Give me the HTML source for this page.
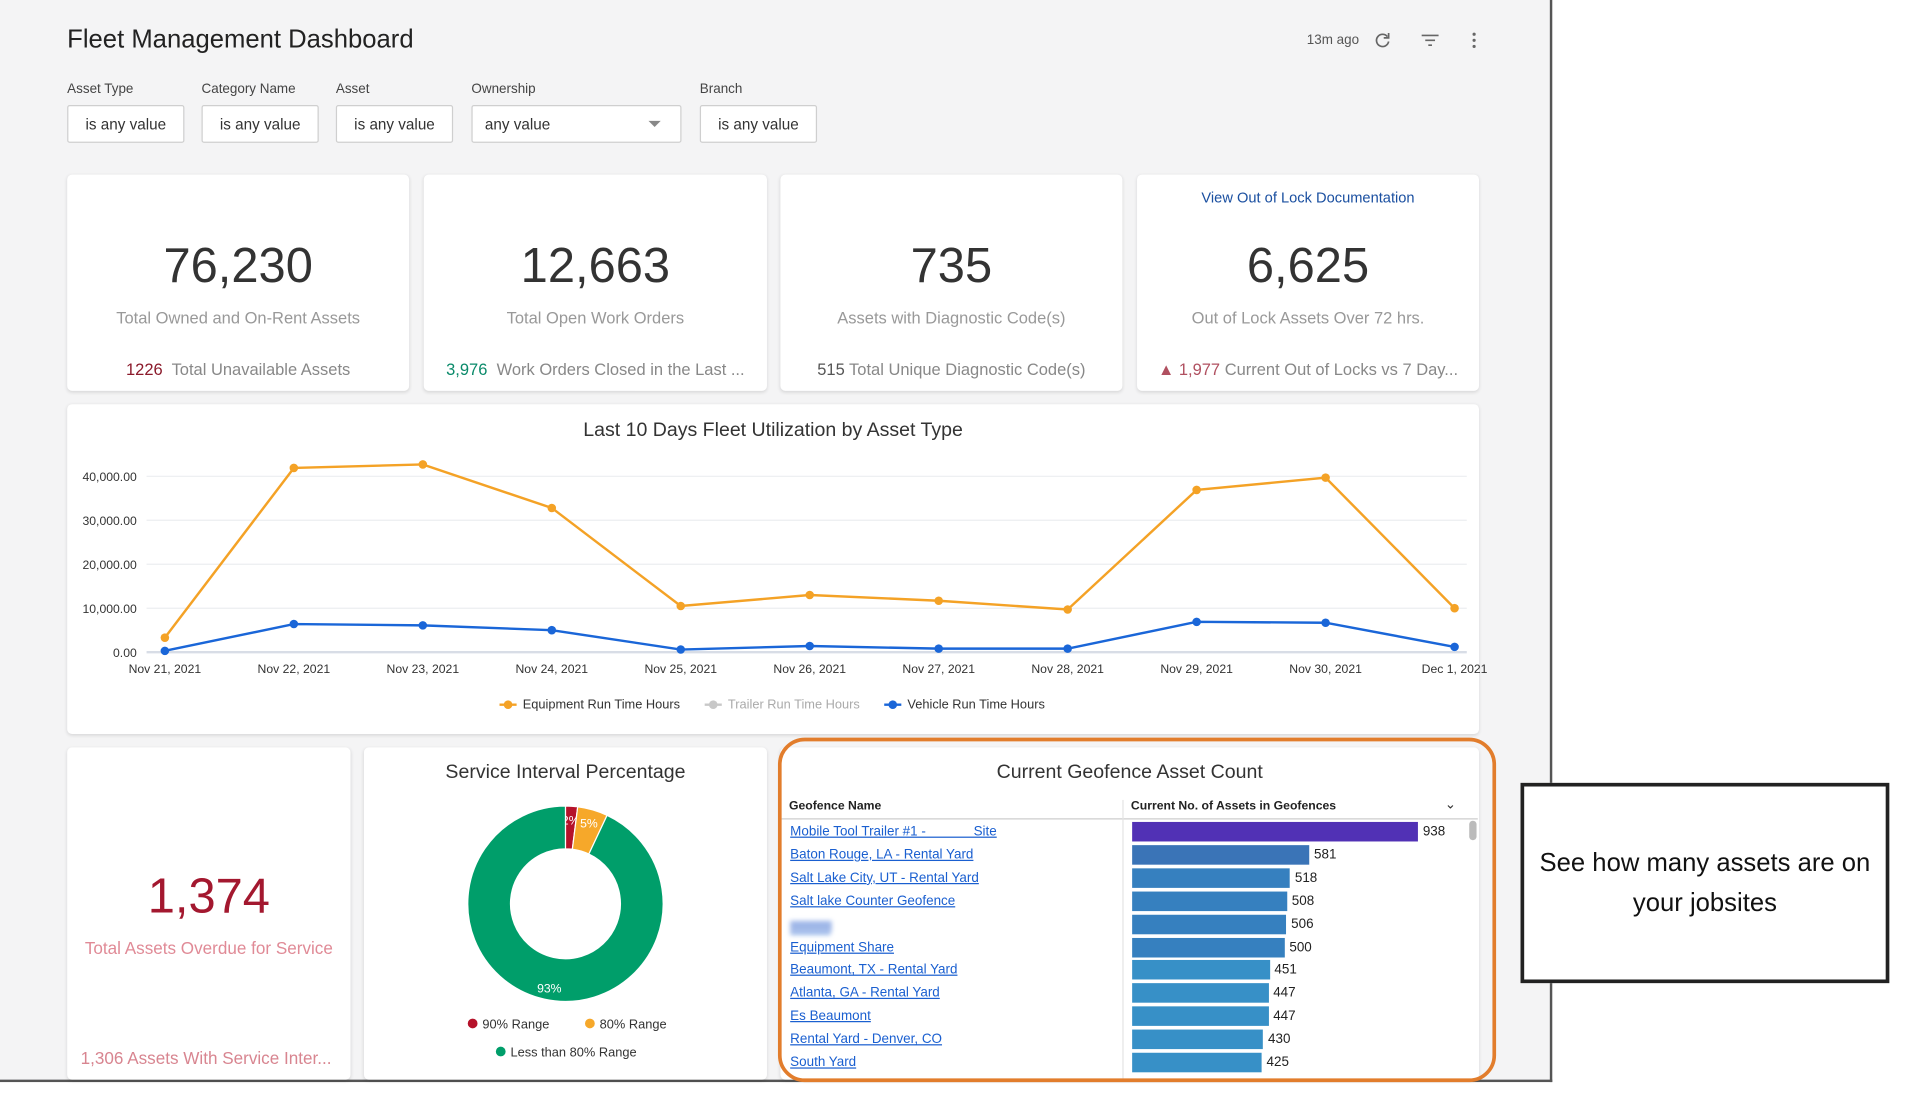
<!DOCTYPE html>
<html><head><meta charset="utf-8">
<style>
html,body{margin:0;padding:0;width:1914px;height:1096px;overflow:hidden;background:#fff;font-family:"Liberation Sans",sans-serif;}
#root{position:absolute;left:0;top:0;width:1567px;height:898px;transform:scale(1.2213);transform-origin:0 0;}
.abs{position:absolute;}
#dash{position:absolute;left:0;top:0;width:1269px;height:884px;background:#f4f4f5;border-right:2px solid #555;border-bottom:2px solid #555;}
.card{position:absolute;background:#fff;border-radius:4px;box-shadow:0 1px 3px rgba(0,0,0,0.12);}
.lbl{position:absolute;font-size:11px;color:#444;top:67px;}
.fbox{position:absolute;top:86px;height:31px;border:1px solid #cfcfcf;border-radius:2px;background:#fff;font-size:12.5px;color:#333;line-height:30px;box-sizing:border-box;padding-left:14px;}
.big{position:absolute;left:0;right:0;text-align:center;font-size:40px;color:#333;top:196px;}
.sub{position:absolute;left:0;right:0;text-align:center;font-size:13.5px;color:#999;top:253px;}
.bot{position:absolute;left:0;right:0;text-align:center;font-size:13.5px;color:#888;top:295px;white-space:nowrap;}
.gname{position:absolute;left:647px;font-size:11px;color:#1a5fd0;text-decoration:underline;white-space:nowrap;}
</style></head><body>
<div id="root">
<div id="dash"></div>
<div class="abs" style="left:55px;top:21px;font-size:21px;color:#222;">Fleet Management Dashboard</div>
<div class="abs" style="left:1070px;top:27px;font-size:11px;color:#555;">13m ago</div>
<svg class="abs" style="left:1125px;top:26px" width="14" height="14" viewBox="0 0 14 14"><path d="M11 4 A5 5 0 1 0 12 8" fill="none" stroke="#666" stroke-width="1.4"/><path d="M12 1 L12 5 L8 5" fill="none" stroke="#666" stroke-width="1.4"/></svg>
<svg class="abs" style="left:1164px;top:27px" width="14" height="12"><path d="M0 2H14M3 6H11M5.5 10H8.5" stroke="#666" stroke-width="1.4"/></svg>
<svg class="abs" style="left:1204px;top:26px" width="6" height="14"><circle cx="3" cy="2" r="1.3" fill="#666"/><circle cx="3" cy="7" r="1.3" fill="#666"/><circle cx="3" cy="12" r="1.3" fill="#666"/></svg>

<div class="lbl" style="left:55px">Asset Type</div>
<div class="lbl" style="left:165px">Category Name</div>
<div class="lbl" style="left:275px">Asset</div>
<div class="lbl" style="left:386px">Ownership</div>
<div class="lbl" style="left:573px">Branch</div>
<div class="fbox" style="left:55px;width:96px;">is any value</div>
<div class="fbox" style="left:165px;width:96px;">is any value</div>
<div class="fbox" style="left:275px;width:96px;">is any value</div>
<div class="fbox" style="left:386px;width:172px;padding-left:10px;">any value<span style="position:absolute;right:16px;top:12px;border-left:5px solid transparent;border-right:5px solid transparent;border-top:5px solid #888;"></span></div>
<div class="fbox" style="left:573px;width:96px;">is any value</div>

<div class="card" style="left:55px;top:143px;width:280px;height:177px;">
<div class="big" style="top:53px">76,230</div><div class="sub" style="top:110px">Total Owned and On-Rent Assets</div>
<div class="bot" style="top:152px"><span style="color:#8b1a2b">1226</span>&nbsp; Total Unavailable Assets</div></div>
<div class="card" style="left:347px;top:143px;width:281px;height:177px;">
<div class="big" style="top:53px">12,663</div><div class="sub" style="top:110px">Total Open Work Orders</div>
<div class="bot" style="top:152px"><span style="color:#0a8a6a">3,976</span>&nbsp; Work Orders Closed in the Last ...</div></div>
<div class="card" style="left:639px;top:143px;width:280px;height:177px;">
<div class="big" style="top:53px">735</div><div class="sub" style="top:110px">Assets with Diagnostic Code(s)</div>
<div class="bot" style="top:152px"><span style="color:#555">515</span> Total Unique Diagnostic Code(s)</div></div>
<div class="card" style="left:931px;top:143px;width:280px;height:177px;">
<div class="abs" style="left:0;right:0;top:12px;text-align:center;font-size:12px;color:#1a4fa0;">View Out of Lock Documentation</div>
<div class="big" style="top:53px">6,625</div><div class="sub" style="top:110px">Out of Lock Assets Over 72 hrs.</div>
<div class="bot" style="top:152px"><span style="color:#b05060">▲ 1,977</span> Current Out of Locks vs 7 Day...</div></div>

<div class="card" style="left:55px;top:331px;width:1156px;height:270px;"></div>
<svg class="abs" id="lc" style="left:0;top:0" width="1270" height="610"></svg>

<div class="card" style="left:55px;top:612px;width:232px;height:272px;">
<div class="abs" style="left:0;right:0;top:100px;text-align:center;font-size:40px;color:#a3182f;">1,374</div>
<div class="abs" style="left:0;right:0;top:156px;text-align:center;font-size:14px;color:#e08a96;">Total Assets Overdue for Service</div>
<div class="abs" style="left:11px;top:246px;font-size:14px;color:#d88590;white-space:nowrap;">1,306 Assets With Service Inter...</div></div>

<div class="card" style="left:298px;top:612px;width:330px;height:272px;">
<div class="abs" style="left:0;right:0;top:12px;text-align:center;font-size:16px;color:#333;">Service Interval Percentage</div></div>
<svg class="abs" id="dc" style="left:298px;top:612px" width="330" height="272"></svg>

<div class="card" style="left:639px;top:612px;width:572px;height:272px;">
<div class="abs" style="left:0;right:0;top:12px;text-align:center;font-size:16px;color:#333;">Current Geofence Asset Count</div></div>
<div class="abs" style="left:646px;top:655px;font-size:10px;font-weight:bold;color:#222;">Geofence Name</div>
<div class="abs" style="left:926px;top:655px;font-size:10px;font-weight:bold;color:#222;">Current No. of Assets in Geofences</div>
<div class="abs" style="left:1183px;top:652px;font-size:11px;color:#333;">⌄</div>
<div class="abs" style="left:640px;top:670px;width:570px;height:1px;background:#ccc;"></div>
<div class="abs" style="left:919px;top:655px;width:1px;height:228px;background:#e4e4e4;"></div>
<div class="abs" style="left:1203px;top:672px;width:6px;height:16px;border-radius:3px;background:#bbb;"></div>
<div id="rows"></div>
<div class="abs" style="left:637px;top:604px;width:582px;height:276px;border:3px solid #e27d2c;border-radius:22px;"></div>

<div class="abs" style="left:1245px;top:641px;width:296px;height:158px;border:3px solid #222;background:#fff;display:flex;align-items:center;justify-content:center;text-align:center;font-size:21px;line-height:33px;color:#111;">See how many assets are on<br>your jobsites</div>
</div>
<script>
const dates=["Nov 21, 2021","Nov 22, 2021","Nov 23, 2021","Nov 24, 2021","Nov 25, 2021","Nov 26, 2021","Nov 27, 2021","Nov 28, 2021","Nov 29, 2021","Nov 30, 2021","Dec 1, 2021"];
const equipment=[3300,41900,42700,32800,10500,13000,11700,9700,36900,39700,10000];
const vehicle=[300,6400,6100,5000,600,1400,800,800,6900,6700,1200];
const yTicks=[0,10000,20000,30000,40000];
const yTickLabels=["0.00","10,000.00","20,000.00","30,000.00","40,000.00"];
const NS="http://www.w3.org/2000/svg";
function mk(p,t,a){const e=document.createElementNS(NS,t);for(const k in a)e.setAttribute(k,a[k]);p.appendChild(e);return e;}
const lc=document.getElementById('lc');
const xS=i=>135+i*(1191-135)/(dates.length-1);
const yS=v=>534-v*(144/40000);
let t=mk(lc,'text',{x:633,y:357,'text-anchor':'middle','font-size':16,fill:'#333'});t.textContent="Last 10 Days Fleet Utilization by Asset Type";


yTicks.forEach((v,i)=>{
 const g=mk(lc,'line',{x1:120,x2:1201,y1:yS(v),y2:yS(v),stroke:i==0?'#d8dde6':'#eceef1','stroke-width':i==0?2:1});
 
 
 const l=mk(lc,'text',{x:112,y:yS(v)+4,'text-anchor':'end','font-size':10,fill:'#333'});l.textContent=yTickLabels[i];
 
 
});
dates.forEach((d,i)=>{const l=mk(lc,'text',{x:xS(i),y:551,'text-anchor':'middle','font-size':10,fill:'#333'});l.textContent=d;
 
 });
function series(vals,col,name){
 const p=mk(lc,'polyline',{points:vals.map((v,i)=>xS(i)+','+yS(v)).join(' '),fill:'none',stroke:col,'stroke-width':2});
 
 
 vals.forEach((v,i)=>{const c=mk(lc,'circle',{cx:xS(i),cy:yS(v),r:3.5,fill:col});
 
 });
}
series(equipment,'#f4a226','equipment');
series(vehicle,'#1a66d8','vehicle');
const legend=[["Equipment Run Time Hours","#f4a226",409,"#333"],["Trailer Run Time Hours","#c8c8c8",577,"#aaa"],["Vehicle Run Time Hours","#1a66d8",724,"#333"]];
legend.forEach(l=>{mk(lc,'line',{x1:l[2],x2:l[2]+14,y1:577,y2:577,stroke:l[1],'stroke-width':2});mk(lc,'circle',{cx:l[2]+7,cy:577,r:3.5,fill:l[1]});
 const tx=mk(lc,'text',{x:l[2]+19,y:580,'font-size':10.5,fill:l[3]});tx.textContent=l[0];
 
 });

const donutLabels=["90% Range","80% Range","Less than 80% Range"];
const donutValues=[2,5,93];
const donutColors=["#b5122a","#f6a82a","#009e6a"];
const dc=document.getElementById('dc');
const cx=165,cy=128,R=80,r=45;let a0=-Math.PI/2;const tot=donutValues.reduce((a,b)=>a+b,0);
donutValues.forEach((v,i)=>{const a1=a0+v/tot*2*Math.PI;const lg=(a1-a0)>Math.PI?1:0;
 const P=(rad,a)=>[cx+rad*Math.cos(a),cy+rad*Math.sin(a)];
 const [x1,y1]=P(R,a0),[x2,y2]=P(R,a1),[x3,y3]=P(r,a1),[x4,y4]=P(r,a0);
 const s=mk(dc,'path',{d:`M${x1},${y1}A${R},${R} 0 ${lg} 1 ${x2},${y2}L${x3},${y3}A${r},${r} 0 ${lg} 0 ${x4},${y4}Z`,fill:donutColors[i],stroke:'#fff','stroke-width':1});
 
 
 const am=(a0+a1)/2;const [lx,ly]=P(v>50?70:69,v>50?Math.PI/2+0.19:am);
 const tl=mk(dc,'text',{x:lx,y:ly+4,'text-anchor':'middle','font-size':10,fill:'#fff'});tl.textContent=v+'%';
 
 
 a0=a1;});
const lp=[[89,230],[185,230],[112,253]];
donutLabels.forEach((l,i)=>{mk(dc,'circle',{cx:lp[i][0],cy:lp[i][1]-4,r:4,fill:donutColors[i]});
 const tx=mk(dc,'text',{x:lp[i][0]+8,y:lp[i][1],'font-size':10.5,fill:'#333'});tx.textContent=l;
 
 });

const geoNames=["Mobile Tool Trailer #1 - \u2003\u2003\u2003 Site","Baton Rouge, LA - Rental Yard","Salt Lake City, UT - Rental Yard","Salt lake Counter Geofence","\u2003\u2003\u2003","Equipment Share","Beaumont, TX - Rental Yard","Atlanta, GA - Rental Yard","Es Beaumont","Rental Yard - Denver, CO","South Yard"];
const geoCounts=[938,581,518,508,506,500,451,447,447,430,425];
const rows=document.getElementById('rows');
const bx=v=>v*(234/938);
geoNames.forEach((n,i)=>{const y=672+i*18.9;
 const d=document.createElement('div');d.className='gname';d.style.top=(y+3)+'px';d.textContent=n;
 if(i==4){d.style.background='#9fb7e8';d.style.filter='blur(2px)';d.style.height='9px';d.style.marginTop='3px';d.style.width='34px';}
 
 
 rows.appendChild(d);
 const b=document.createElement('div');b.className='abs';
 const col=i==0?'#5131b5':(i==1?'#3a74b7':(i<6?'#3680bf':'#3790c7'));
 b.style.cssText=`left:927px;top:${y+1}px;width:${bx(geoCounts[i])}px;height:16px;background:${col};`;
 
 
 rows.appendChild(b);
 const v=document.createElement('div');v.className='abs';
 v.style.cssText=`left:${931+bx(geoCounts[i])}px;top:${y+3}px;font-size:11px;color:#222;`;v.textContent=geoCounts[i];
 
 
 rows.appendChild(v);
});
</script>
</body></html>
